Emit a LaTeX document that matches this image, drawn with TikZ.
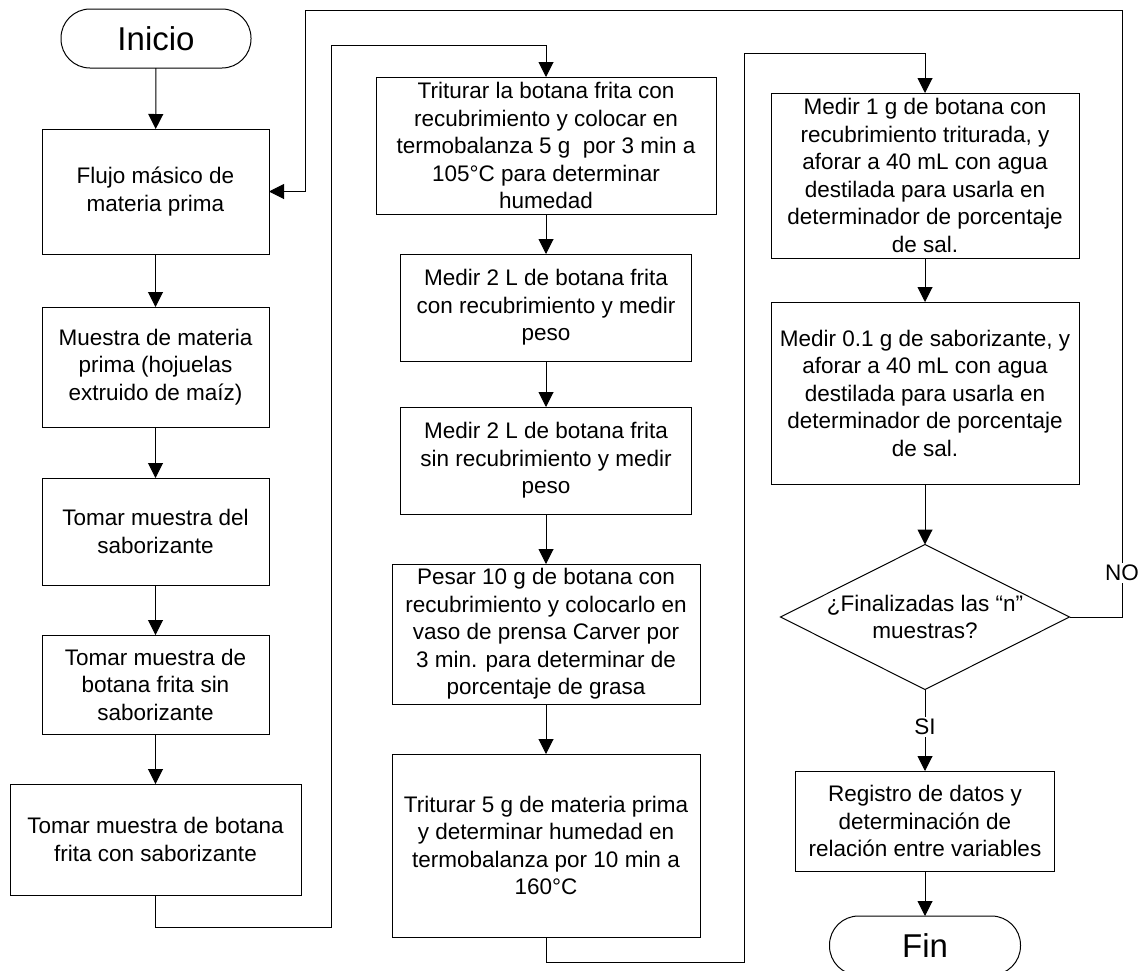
\documentclass[tikz,border=0pt]{standalone}
\usepackage{fontspec}
\setmainfont{Liberation Sans}
\usepackage{tikz}
\usetikzlibrary{shapes.geometric, arrows.meta}
\tikzstyle{startstop} = [rectangle, draw=black, line width=1pt, minimum width=190pt, minimum height=59pt, rounded corners=29pt, inner sep=0pt, outer sep=0pt, font=\fontsize{33}{38}\selectfont]
\tikzstyle{process} = [rectangle, draw=black, line width=1pt, inner sep=0pt, outer sep=0pt, align=center, font=\fontsize{22.5}{27.5}\selectfont]
\tikzstyle{decision} = [diamond, draw=black, line width=1pt, minimum width=289pt, minimum height=145pt, inner sep=0pt, outer sep=0pt]
\tikzstyle{lbl} = [fill=white, inner sep=2pt, font=\fontsize{22.5}{27.5}\selectfont]
\tikzstyle{arrow} = [line width=1pt, -{Triangle[length=15pt, width=15pt]}]

\begin{document}
\begin{tikzpicture}[x=1pt, y=-1pt]
        \useasboundingbox (0,0) rectangle (1141,970);
        \node[startstop] (ini) at (156,38.5) {Inicio};
        \node[process, minimum width=227pt, minimum height=125pt] (flujo) at (155.5,191.5) {Flujo másico de\\materia prima};
        \node[process, minimum width=227pt, minimum height=120pt] (muestra) at (155.5,367) {Muestra de materia\\prima (hojuelas\\extruido de maíz)};
        \node[process, minimum width=227pt, minimum height=107pt] (tomsab) at (155.5,531.5) {Tomar muestra del\\saborizante};
        \node[process, minimum width=227pt, minimum height=99pt] (sinsab) at (155.5,684.5) {Tomar muestra de\\botana frita sin\\saborizante};
        \node[process, minimum width=291pt, minimum height=111pt] (consab) at (155.5,839.5) {Tomar muestra de botana\\frita con saborizante};

        \node[process, minimum width=340pt, minimum height=137pt] (tri1) at (546,145.5) {Triturar la botana frita con\\recubrimiento y colocar en\\termobalanza 5 g \ por 3 min a\\105°C para determinar\\humedad};
        \node[process, minimum width=291pt, minimum height=107pt] (m2con) at (546,307.5) {Medir 2 L de botana frita\\con recubrimiento y medir\\peso};
        \node[process, minimum width=291pt, minimum height=107pt] (m2sin) at (546,460.5) {Medir 2 L de botana frita\\sin recubrimiento y medir\\peso};
        \node[process, minimum width=308pt, minimum height=140pt] (pesar) at (546,634) {Pesar 10 g de botana con\\recubrimiento y colocarlo en\\vaso de prensa Carver por\\3 min. para determinar de\\porcentaje de grasa};
        \node[process, minimum width=308pt, minimum height=183pt] (tri5) at (546,845.5) {Triturar 5 g de materia prima\\y determinar humedad en\\termobalanza por 10 min a\\160°C};

        \node[process, minimum width=308pt, minimum height=165pt] (m1g) at (925,175.5) {Medir 1 g de botana con\\recubrimiento triturada, y\\aforar a 40 mL con agua\\destilada para usarla en\\determinador de porcentaje\\de sal.};
        \node[process, minimum width=308pt, minimum height=182pt] (m01) at (925,393) {Medir 0.1 g de saborizante, y\\aforar a 40 mL con agua\\destilada para usarla en\\determinador de porcentaje\\de sal.};
        \node[decision, label={[process, draw=none]center:¿Finalizadas las “n”\\muestras?}] (dec) at (925,617) {};
        \node[process, minimum width=259pt, minimum height=100pt] (reg) at (925,821) {Registro de datos y\\determinación de\\relación entre variables};
        \node[startstop, minimum width=191pt] (fin) at (925,945.5) {Fin};

        \draw[arrow] (ini) -- (flujo);
        \draw[arrow] (flujo) -- (muestra);
        \draw[arrow] (muestra) -- (tomsab);
        \draw[arrow] (tomsab) -- (sinsab);
        \draw[arrow] (sinsab) -- (consab);
        \draw[arrow] (consab.south) -- ++(0,32) -| (331,45) -| (tri1.north);
        \draw[arrow] (tri1) -- (m2con);
        \draw[arrow] (m2con) -- (m2sin);
        \draw[arrow] (m2sin) -- (pesar);
        \draw[arrow] (pesar) -- (tri5);
        \draw[arrow] (tri5.south) -- ++(0,25) -| (744,53) -| (m1g.north);
        \draw[arrow] (m1g) -- (m01);
        \draw[arrow] (m01) -- (dec);
        \draw[arrow] (dec.east) -| (1122,10) -| ([xshift=36pt]flujo.east) -- (flujo.east);
        \draw[arrow] (dec.south) -- (reg.north);
        \draw[arrow] (reg) -- (fin);
        \node[lbl] (no) at (1122,573) {NO};
        \node[lbl] (si) at (925,727) {SI};
        % \draw[red, dashed] (0,0) rectangle (1141,970);
\end{tikzpicture}
\end{document}
